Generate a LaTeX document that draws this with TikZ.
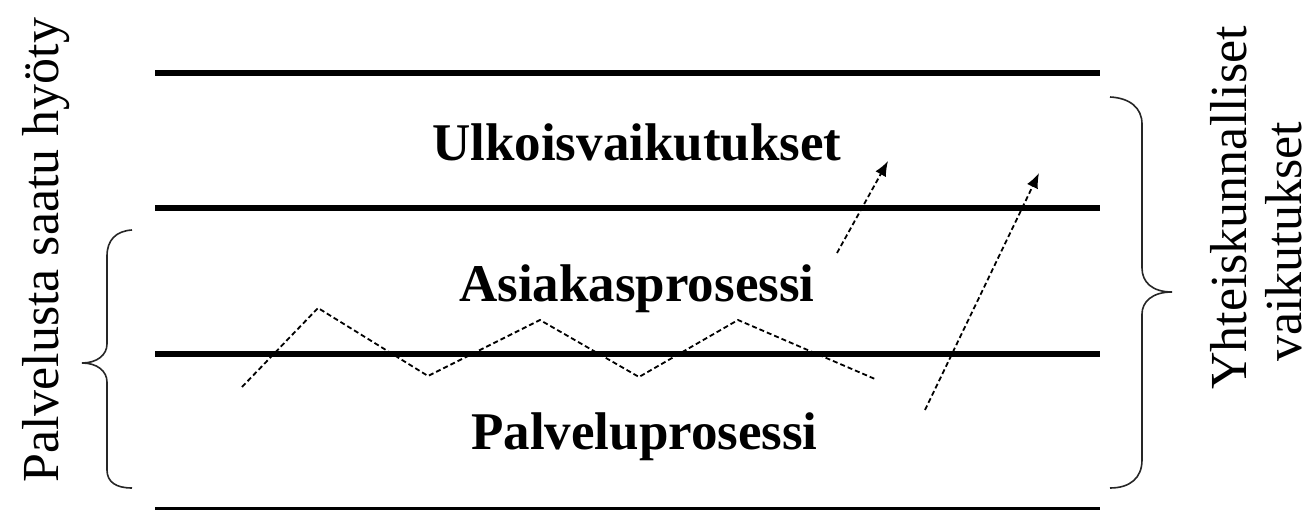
\documentclass[tikz,border=0pt]{standalone}
\usepackage{fontspec}
\setmainfont{Liberation Serif}
\usetikzlibrary{arrows.meta}
\tikzset{
  band/.style={line width=6pt},
  lbl/.style={font=\fontsize{53}{58}\selectfont\bfseries, inner sep=0pt, anchor=base west},
  side/.style={font=\fontsize{52}{58}\selectfont, inner sep=0pt, anchor=base west, rotate=90},
  dsh/.style={line width=1.8pt, dash pattern=on 5pt off 3pt},
  darrow/.style={dsh, -{Latex[length=15pt,width=12pt]}},
  brc/.style={line width=1.6pt, black!85}
}
\begin{document}
\begin{tikzpicture}[x=1pt,y=-1pt]
\useasboundingbox (0,0) rectangle (1310,510);
% horizontal bands
\draw[band] (155,73) -- (1100,73);
\draw[band] (155,208) -- (1100,208);
\draw[band] (155,354) -- (1100,354);
\draw[band] (155,510) -- (1100,510);
% labels
\node[lbl] (ulko) at (432,161) {Ulkoisvaikutukset};
\node[lbl] (asia) at (459,302) {Asiakasprosessi};
\node[lbl] (palv) at (471,450) {Palveluprosessi};
% side texts
\node[side] (hyoty) at (58,483) {Palvelusta saatu hyöty};
\node[side] (yht) at (1246,390) {Yhteiskunnalliset};
\node[side] (vaik) at (1301,362) {vaikutukset};
% zigzag
\draw[dsh] (242,387) -- (318,308) -- (428,376) -- (540,320) -- (639,377) -- (738,320) -- (875,379);
% arrows
\coordinate (a1s) at (837,253);
\coordinate (a1e) at (888,161);
\coordinate (a2s) at (925,410);
\coordinate (a2e) at (1039,173);
\draw[darrow] (a1s) -- (a1e);
\draw[darrow] (a2s) -- (a2e);
% left brace
\draw[brc] (132,230) .. controls (116,231) and (107,240) .. (107,256) -- (107,344)
  .. controls (107,355) and (97,363) .. (82,363)
  .. controls (97,363) and (107,371) .. (107,382) -- (107,470)
  .. controls (107,482) and (116,488) .. (132,488);
% right brace
\draw[brc] (1110,97) .. controls (1130,98) and (1142,108) .. (1142,124) -- (1142,268)
  .. controls (1142,282) and (1152,292) .. (1172,292)
  .. controls (1152,292) and (1142,302) .. (1142,314) -- (1142,460)
  .. controls (1142,478) and (1130,488) .. (1110,488);
\end{tikzpicture}
\end{document}
